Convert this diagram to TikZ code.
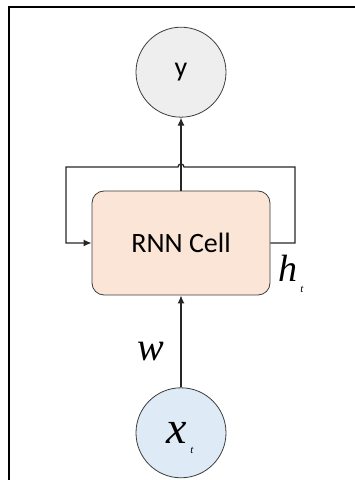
\documentclass[tikz,border=0pt]{standalone}
\usepackage{fontspec}
\setmainfont{Liberation Serif}
\newfontfamily\cellfont{Carlito}
\usetikzlibrary{arrows,arrows.meta,positioning}

\definecolor{cellpeach}{RGB}{251,229,214}
\definecolor{inblue}{RGB}{222,235,247}
\definecolor{outgray}{RGB}{238,238,238}
\definecolor{edgegray}{RGB}{60,60,60}

\begin{document}
\begin{tikzpicture}[
    x=1pt, y=1pt,
    unit/.style={circle, draw=edgegray, line width=0.8pt, minimum size=90pt, inner sep=0pt},
    cell/.style={rectangle, draw=edgegray, line width=0.8pt, rounded corners=12pt, fill=cellpeach, minimum width=178pt, minimum height=104pt, align=center, font=\cellfont\fontsize{28}{28}\selectfont},
    sym/.style={inner sep=0pt, font=\itshape\fontsize{#1}{#1}\selectfont},
    arrow/.style={-{Latex[length=8pt,width=7pt]}, line width=1.3pt, draw=black!85}
]
\useasboundingbox (0,0) rectangle (355,480);

% Frame
\draw[line width=1.5pt] (9,0) |- (355,473);

% RNN cell
\node[cell] (cell) at (181,237) {RNN Cell};

% Output and input units
\node[unit, fill=outgray, above=73pt of cell, font=\cellfont\fontsize{28}{28}\selectfont] (out) {y};
\node[unit, fill=inblue, below=92pt of cell, font=\itshape\fontsize{46}{46}\selectfont] (in) {x\kern8pt};

% Labels
\node[sym=11] (insub) at (192,30) {t};
\node[sym=40] (wlabel) at (151,128) {w};
\node[sym=38] (hlabel) at (288,212) {h};
\node[sym=11] (hsub) at (302,191) {t};

% Loop corners
\coordinate (loopR) at (295,313);
\coordinate (loopL) at (66,313);
\coordinate (hop) at (cell.north |- loopR);

% Arrows
\draw[arrow] (in) -- (cell);
\draw[arrow] (cell) -- (out);
\draw[arrow] (cell.east) -| (loopR) -- ([xshift=3pt]hop) arc[start angle=0, end angle=180, radius=3pt] -- (loopL) |- (cell.west);

\end{tikzpicture}
\end{document}
